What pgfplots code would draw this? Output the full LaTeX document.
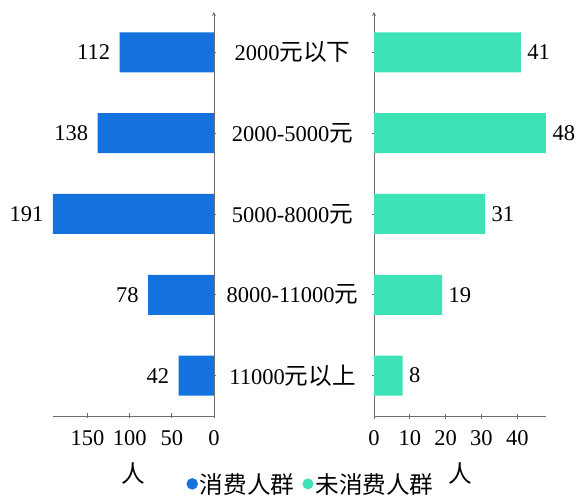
\documentclass[border=0pt]{standalone}
\usepackage{pgfplots}
\pgfplotsset{compat=1.18}
\usepackage{fontspec}
\setmainfont{Liberation Serif}
\newfontfamily\cjk[Scale=1.05]{Noto Sans CJK SC}
\definecolor{barblue}{HTML}{1372DE}
\definecolor{bargreen}{HTML}{3DE3B7}
\definecolor{axisgray}{HTML}{6E6E6E}

\pgfplotsset{
  halfchart/.style={
    scale only axis,
    height=404pt,
    ymin=-0.5, ymax=4.5,
    ytick={0,1,2,3,4},
    xbar, bar width=40pt,
    tick align=outside,
    major tick length=5pt,
    axis x line=bottom,
    axis line style={axisgray, line width=0.8pt},
    every outer x axis line/.append style={-},
    every outer y axis line/.append style={-},
    every inner x axis line/.append style={-},
    every inner y axis line/.append style={-},
    tick style={axisgray, line width=0.8pt},
    /pgf/number format/assume math mode=true,
    nodes near coords,
    every node near coord/.append style={black},
    xlabel={\cjk 人},
    xlabel style={yshift=-10pt},
    xticklabel style={yshift=-9pt},
    label style={font=\fontsize{22.5}{27}\selectfont},
    tick label style={font=\fontsize{22.5}{27}\selectfont},
  }
}

\begin{document}
\begin{tikzpicture}[font=\fontsize{22.5}{27}\selectfont]
\path[use as bounding box] (0,0) rectangle (579pt,-497pt);

% consumers
\begin{axis}[halfchart,
  at={(53pt,-12pt)}, anchor=north west,
  width=161pt,
  xmin=0, xmax=191, x dir=reverse,
  axis y line=right,
  xtick={0,50,100,150},
  yticklabels={{11000{\cjk 元以上}},{8000-11000{\cjk 元}},{5000-8000{\cjk 元}},{2000-5000{\cjk 元}},{2000{\cjk 元以下}}},
  yticklabel style={anchor=center, xshift=76pt},
  every node near coord/.append style={anchor=east, xshift=-6pt},
]
\addplot[fill=barblue, draw=none] coordinates {(112,4) (138,3) (191,2) (78,1) (42,0)};
\end{axis}

% non-consumers
\begin{axis}[halfchart,
  at={(374pt,-12pt)}, anchor=north west,
  width=172pt,
  xmin=0, xmax=48,
  axis y line=left,
  xtick={0,10,20,30,40},
  yticklabels={},
  every node near coord/.append style={xshift=3pt},
  legend columns=2,
  legend style={draw=none, fill=none, at={(-0.366,-0.168)}, anchor=center,
    font=\fontsize{22.5}{27}\selectfont,
    /tikz/every even column/.append style={column sep=6pt}},
]
\addlegendimage{legend image code/.code={\fill[barblue] (0.35cm,0pt) circle (5.5pt);}}
\addlegendentry{\cjk 消费人群}
\addplot[fill=bargreen, draw=none,
  legend image code/.code={\fill[bargreen] (0.35cm,0pt) circle (5.5pt);}]
  coordinates {(41,4) (48,3) (31,2) (19,1) (8,0)};
\addlegendentry{\cjk 未消费人群}
\end{axis}
\end{tikzpicture}
\end{document}
